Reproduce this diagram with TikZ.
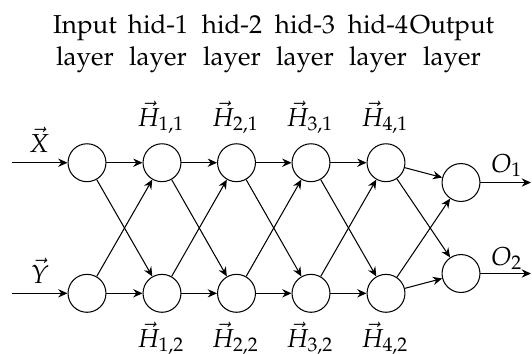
\documentclass[tikz,border=0pt]{standalone}
\usepackage[T1]{fontenc}
\usepackage{mathpazo}
\usetikzlibrary{arrows.meta}
\begin{document}
\begin{tikzpicture}[x=0.385pt,y=-0.385pt,
  neuron/.style={circle,draw,minimum size=14.6pt,inner sep=0pt},
  conn/.style={-{Stealth[length=3.6pt,width=3.2pt,inset=1.2pt]}},
  lbl/.style={anchor=base,inner sep=0pt},
  layerlbl/.style={anchor=base,inner sep=0pt,align=center}]
\useasboundingbox (0,0) rectangle (532,353);
% layer labels
\node[layerlbl] (l0) at (85,65) {Input\\layer};
\node[layerlbl] (l1) at (158,65) {hid-1\\layer};
\node[layerlbl] (l2) at (232,65) {hid-2\\layer};
\node[layerlbl] (l3) at (305,65) {hid-3\\layer};
\node[layerlbl] (l4) at (378,65) {hid-4\\layer};
\node[layerlbl] (l5) at (452,65) {Output\\layer};
% neurons
\node[neuron] (i1) at (87,162.7) {};
\node[neuron] (i2) at (87,293.3) {};
\node[neuron] (h11) at (162,162.7) {};
\node[neuron] (h12) at (162,293.3) {};
\node[neuron] (h21) at (236.5,162.7) {};
\node[neuron] (h22) at (236.5,293.3) {};
\node[neuron] (h31) at (311,162.7) {};
\node[neuron] (h32) at (311,293.3) {};
\node[neuron] (h41) at (386,162.7) {};
\node[neuron] (h42) at (386,293.3) {};
\node[neuron] (o1) at (461,182.5) {};
\node[neuron] (o2) at (461,273.5) {};
% coordinates for free ends
\coordinate (xin) at (12,162.7);
\coordinate (yin) at (12,293.3);
\coordinate (o1out) at (531,182.5);
\coordinate (o2out) at (531,273.5);
% labels
\node[lbl] (xl) at (39,152) {$\vec{X}$};
\node[lbl] (yl) at (40,283) {$\vec{Y}$};
\node[lbl] (t1) at (161,126) {$\vec{H}_{1,1}$};
\node[lbl] (t2) at (235.5,126) {$\vec{H}_{2,1}$};
\node[lbl] (t3) at (310,126) {$\vec{H}_{3,1}$};
\node[lbl] (t4) at (385,126) {$\vec{H}_{4,1}$};
\node[lbl] (b1) at (161,347) {$\vec{H}_{1,2}$};
\node[lbl] (b2) at (235.5,347) {$\vec{H}_{2,2}$};
\node[lbl] (b3) at (310,347) {$\vec{H}_{3,2}$};
\node[lbl] (b4) at (385,347) {$\vec{H}_{4,2}$};
\node[lbl] (ol1) at (507,172) {$O_1$};
\node[lbl] (ol2) at (507,265) {$O_2$};
% connections
\draw[conn] (xin) -- (i1);
\draw[conn] (yin) -- (i2);
\foreach \a/\b in {i/h1,h1/h2,h2/h3,h3/h4}{
  \draw[conn] (\a1) -- (\b1);
  \draw[conn] (\a2) -- (\b2);
  \draw[conn] (\a1) -- (\b2);
  \draw[conn] (\a2) -- (\b1);
}
\draw[conn] (h41) -- (o1);
\draw[conn] (h41) -- (o2);
\draw[conn] (h42) -- (o1);
\draw[conn] (h42) -- (o2);
\draw[conn] (o1) -- (o1out);
\draw[conn] (o2) -- (o2out);
\end{tikzpicture}
\end{document}
